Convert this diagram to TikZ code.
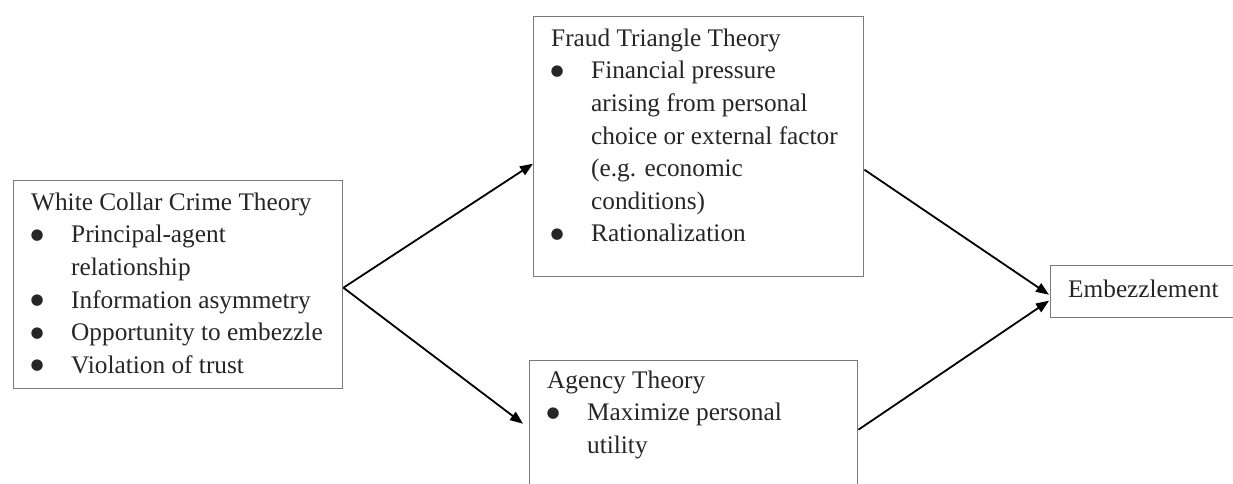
\documentclass[tikz,border=0pt]{standalone}
\usepackage{fontspec}
\setmainfont{Liberation Serif}
\newfontfamily\bulfont{DejaVu Sans}
\usetikzlibrary{arrows.meta}
\definecolor{boxgray}{HTML}{7A7A7A}
\definecolor{textcol}{HTML}{262626}
\newcommand\bulitem{\makebox[40pt][l]{\hspace{-0.5pt}\raisebox{3.5pt}{\bulfont\fontsize{15}{15}\selectfont ●}}}
\newcommand\inditem{\hspace*{40pt}}
\begin{document}
\begin{tikzpicture}[x=1pt,y=-1pt,
  box/.style={draw=boxgray,line width=1.4pt,inner sep=0pt,anchor=north west},
  txt/.style={inner sep=0pt,anchor=north west,align=left,font=\fontsize{25.3}{32.6}\selectfont,text=textcol},
  conn/.style={line width=1.8pt,-{Triangle[length=13pt,width=10pt]}}]
\clip (0,0) rectangle (1233,483);
\fill[white] (0,0) rectangle (1233,483);
% boxes
\node[box,minimum width=329pt,minimum height=208pt] (wc) at (13,180) {};
\node[box,minimum width=330pt,minimum height=260.5pt] (ft) at (533,15.5) {};
\node[box,minimum width=328pt,minimum height=150pt] (ag) at (529,360) {};
\node[box,minimum width=200pt,minimum height=52pt] (em) at (1050,265) {};
% texts
\node[txt] (wct) at (31,190) {\rule{0pt}{20pt}White Collar Crime Theory\\
 \bulitem Principal-agent\\
 \inditem relationship\\
 \bulitem Information asymmetry\\
 \bulitem Opportunity to embezzle\\
 \bulitem Violation of trust};
\node[txt] (ftt) at (551,26) {\rule{0pt}{20pt}Fraud Triangle Theory\\
 \bulitem Financial pressure\\
 \inditem arising from personal\\
 \inditem choice or external factor\\
 \inditem (e.g. economic\\
 \inditem conditions)\\
 \bulitem Rationalization};
\node[txt] (agt) at (547,368) {\rule{0pt}{20pt}Agency Theory\\
 \bulitem Maximize personal\\
 \inditem utility};
\node[txt,anchor=base west] (emt) at (1068,297) {Embezzlement};
% connectors
\draw[conn] ([yshift=-3pt]wc.east) -- ([yshift=-17.25pt]ft.west);
\draw[conn] ([yshift=-3pt]wc.east) -- ([xshift=-6pt,yshift=12pt]ag.west);
\draw[conn] ([yshift=-23.25pt]ft.east) -- ([xshift=-1pt,yshift=-3pt]em.west);
\draw[conn] ([yshift=6pt]ag.east) -- ([xshift=-1pt,yshift=-9pt]em.west);
\end{tikzpicture}
\end{document}
